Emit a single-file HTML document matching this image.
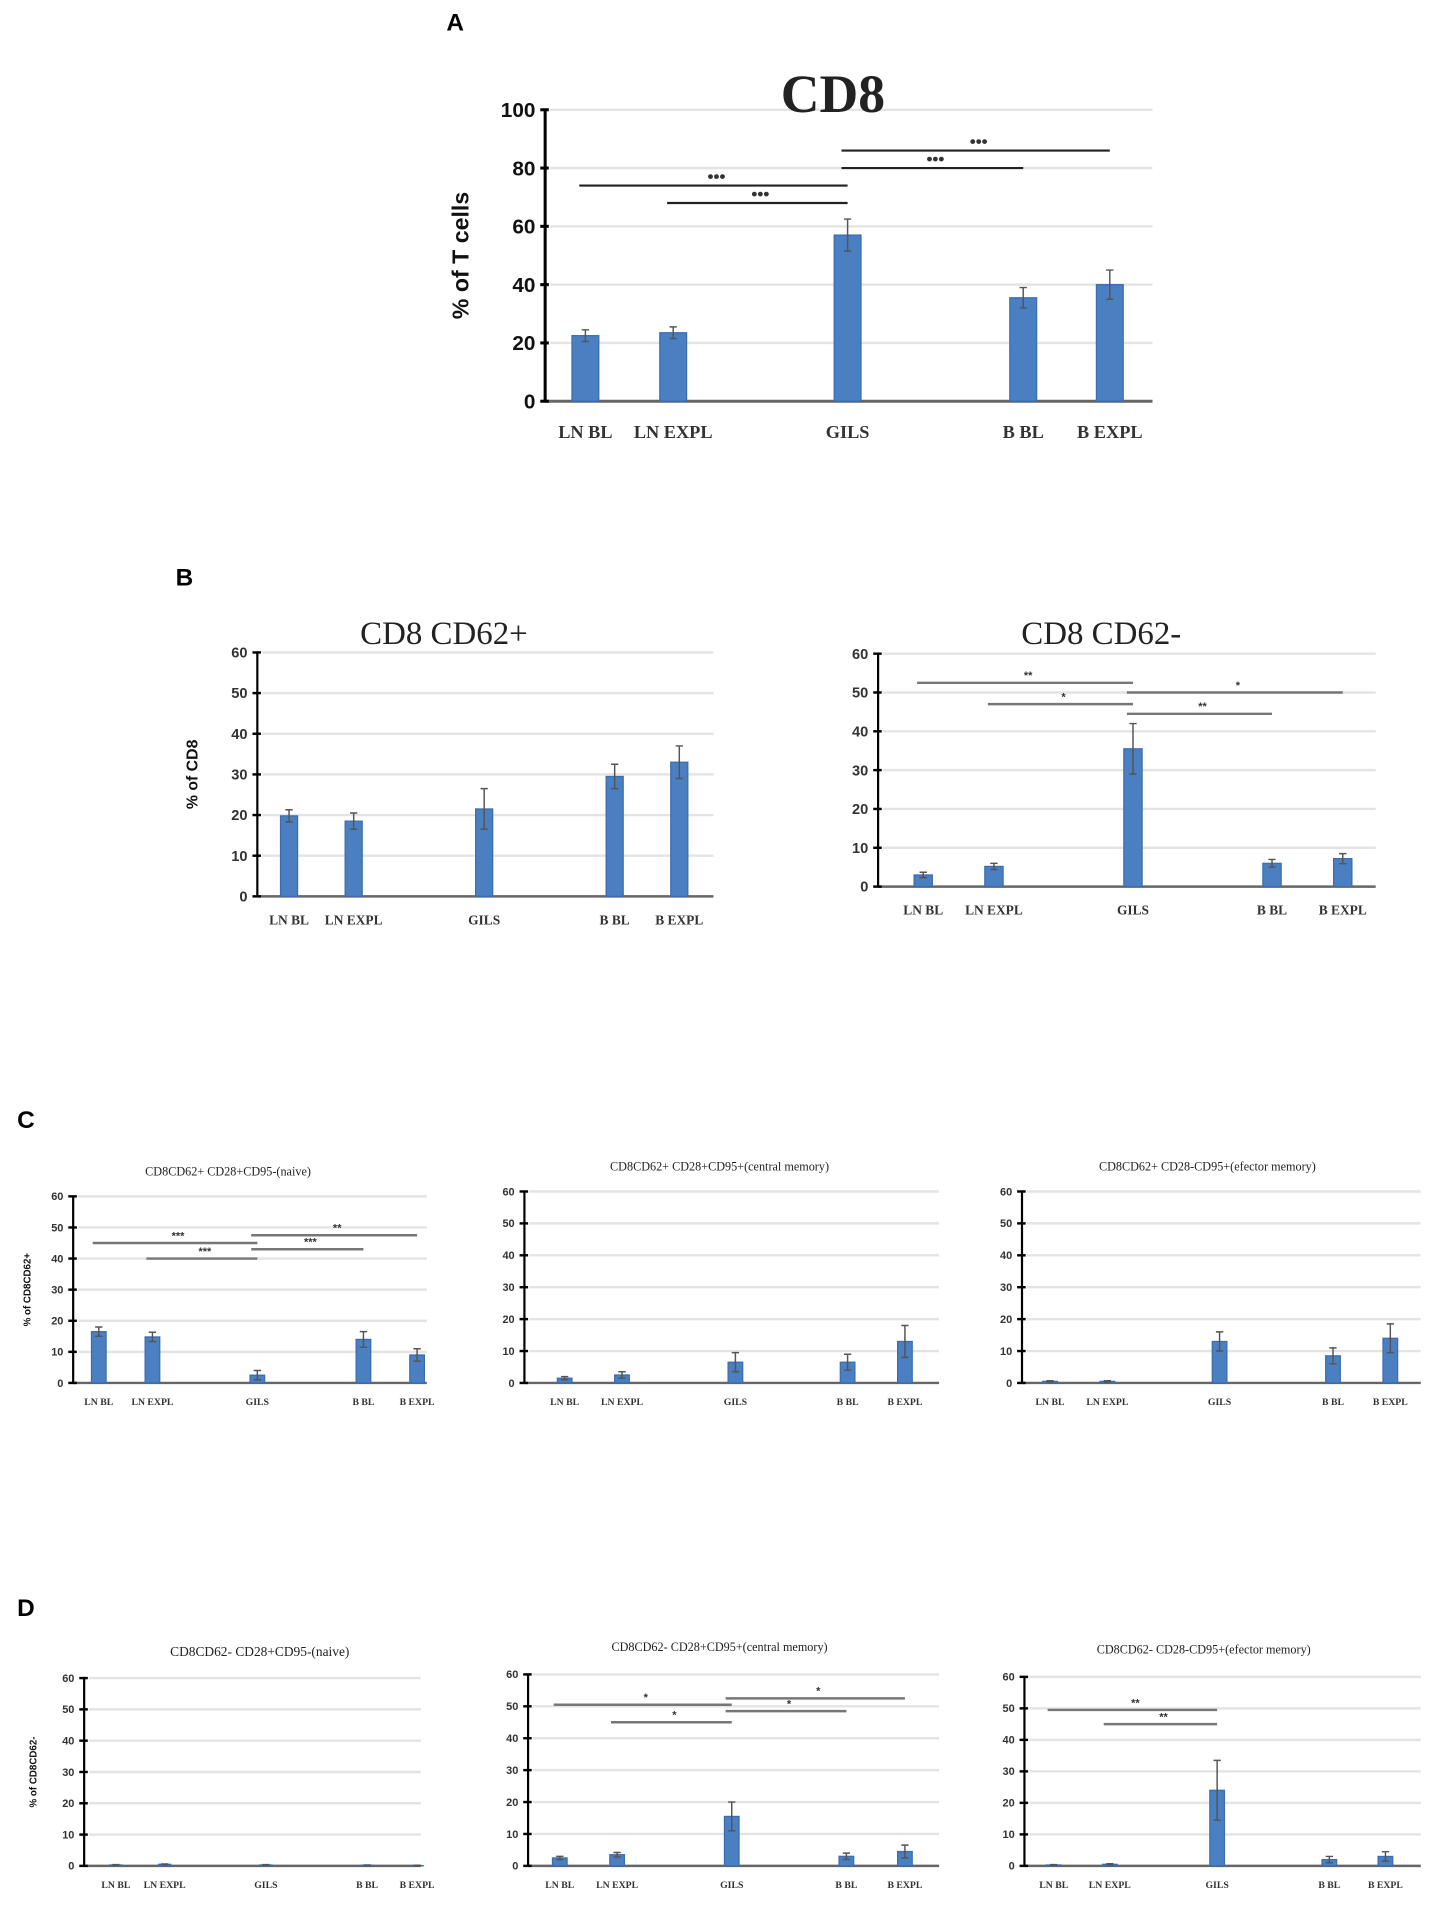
<!DOCTYPE html>
<html><head><meta charset="utf-8"><style>
html,body{margin:0;padding:0;background:#fff;}
svg{display:block;}
</style></head><body>
<svg id="fig" width="1433" height="1911" viewBox="0 0 1175 1567" preserveAspectRatio="none" xmlns="http://www.w3.org/2000/svg">
<text x="366" y="25" font-family="Liberation Sans, sans-serif" font-weight="bold" font-size="20">A</text>
<text x="144" y="480" font-family="Liberation Sans, sans-serif" font-weight="bold" font-size="20">B</text>
<text x="14" y="925" font-family="Liberation Sans, sans-serif" font-weight="bold" font-size="20">C</text>
<text x="14" y="1325" font-family="Liberation Sans, sans-serif" font-weight="bold" font-size="20">D</text>
</svg>
<script>
// ---- data ----
const categories = ["LN BL","LN EXPL","GILS","B BL","B EXPL"];
const aValues = [22.5, 23.5, 57, 35.5, 40];
const aErrors = [2, 2, 5.5, 3.5, 5];
const aTicks = [0,20,40,60,80,100];
const aSig = [[0,2,74,"***"],[1,2,68,"***"],[2,3,80,"***"],[2,4,86,"***"]];
const bTicks = [0,10,20,30,40,50,60];
const b1Values = [19.8, 18.5, 21.5, 29.5, 33];
const b1Errors = [1.5, 2, 5, 3, 4];
const b2Values = [3, 5.2, 35.5, 6, 7.2];
const b2Errors = [0.7, 0.8, 6.5, 1, 1.3];
const b2Sig = [[0,2,52.5,"**"],[1,2,47,"*"],[2,4,50,"*"],[2,3,44.5,"**"]];
const c1Values = [16.5, 14.8, 2.5, 14, 9];
const c1Errors = [1.5, 1.5, 1.5, 2.5, 2];
const c1Sig = [[0,2,45,"***"],[1,2,40,"***"],[2,4,47.5,"**"],[2,3,43,"***"]];
const c2Values = [1.5, 2.5, 6.5, 6.5, 13];
const c2Errors = [0.5, 1, 3, 2.5, 5];
const c3Values = [0.5, 0.5, 13, 8.5, 14];
const c3Errors = [0.2, 0.2, 3, 2.5, 4.5];
const d1Values = [0.3, 0.5, 0.3, 0.2, 0.1];
const d1Errors = [0.1, 0.1, 0.1, 0.1, 0.1];
const d2Values = [2.5, 3.5, 15.5, 3, 4.5];
const d2Errors = [0.5, 0.7, 4.5, 1, 2];
const d2Sig = [[0,2,50.5,"*"],[1,2,45,"*"],[2,4,52.5,"*"],[2,3,48.5,"*"]];
const d3Values = [0.3, 0.5, 24, 2, 3];
const d3Errors = [0.1, 0.2, 9.5, 1, 1.5];
const d3Sig = [[0,2,49.5,"**"],[1,2,45,"**"]];

const NS = "http://www.w3.org/2000/svg";
const svg = document.getElementById('fig');
function mk(tag, attrs, parent){
  const e = document.createElementNS(NS, tag);
  for (const k in attrs) e.setAttribute(k, attrs[k]);
  (parent||svg).appendChild(e);
  return e;
}

function chart(cfg){
  const g = mk('g', {});
  
  
  const max = cfg.ticks[cfg.ticks.length-1];
  const y = v => cfg.y0 - (v/max)*(cfg.y0-cfg.yTop);
  // gridlines
  cfg.ticks.forEach((t,i)=>{
    if (t===0) return;
    const l = mk('line', {x1:cfg.ax+4, x2:cfg.right, y1:y(t), y2:y(t), stroke:'#e4e4e4', 'stroke-width':2}, g);
    
    
  });
  // baseline
  const bl = mk('line', {x1:cfg.ax, x2:cfg.right, y1:cfg.y0, y2:cfg.y0, stroke:'#666', 'stroke-width':cfg.big?2.5:2}, g);
  
  
  // y axis
  const ya = mk('line', {x1:cfg.ax, x2:cfg.ax, y1:cfg.yTop, y2:cfg.y0, stroke:'#000', 'stroke-width':cfg.big?2.5:1.8}, g);
  
  
  cfg.ticks.forEach(t=>{
    const tk = mk('line', {x1:cfg.ax-4, x2:cfg.ax+3, y1:y(t), y2:y(t), stroke:'#000', 'stroke-width':cfg.big?2.5:2}, g);
    
    
    const tl = mk('text', {x:cfg.ax-8, y:y(t)+cfg.tickFs*0.35, 'text-anchor':'end', 'font-family':cfg.big?'Liberation Sans, sans-serif':'Liberation Sans Narrow, Liberation Sans, sans-serif', 'font-weight':'bold', 'font-size':cfg.tickFs, fill:cfg.big?'#111':'#333'}, g);
    tl.textContent = t;
    
    
  });
  // bars
  cfg.values.forEach((v,i)=>{
    const cx = cfg.xs[i];
    const r = mk('rect', {x:cx-cfg.bw/2, y:y(v), width:cfg.bw, height:cfg.y0-y(v), fill:'#4a7fc1', stroke:'#3a6cae', 'stroke-width':1}, g);
    
    
    const e = cfg.errors[i];
    const eb = mk('path', {d:`M${cx} ${y(v+e)}V${y(Math.max(0,v-e))}M${cx-3} ${y(v+e)}H${cx+3}M${cx-3} ${y(Math.max(0,v-e))}H${cx+3}`, stroke:'#555', 'stroke-width':1.2, fill:'none'}, g);
    
    
    const xl = mk('text', {x:cx, y:cfg.labY, 'text-anchor':'middle', 'font-family':'Liberation Serif, serif', 'font-weight':'bold', 'font-size':cfg.labFs, fill:'#333'}, g);
    xl.textContent = categories[i];
    
    
  });
  // significance
  (cfg.sig||[]).forEach(s=>{
    const x1 = cfg.xs[s[0]], x2 = cfg.xs[s[1]];
    const l = mk('line', {x1:x1-5, x2:x2, y1:y(s[2]), y2:y(s[2]), stroke:cfg.big?'#222':'#777', 'stroke-width':cfg.big?1.8:2}, g);
    
    
    const st = mk('text', {x:(x1+x2)/2, y:y(s[2])-3, 'text-anchor':'middle', 'font-family':'Liberation Sans, sans-serif', 'font-weight':'bold', 'font-size':cfg.big?14:9, fill:'#333'}, g);
    st.textContent = s[3].replace(/\*/g, cfg.big?'•':'*');
    
    
  });
  // title
  const tt = mk('text', {x:cfg.titleX, y:cfg.titleY, 'text-anchor':'middle', 'font-family':'Liberation Serif, serif', 'font-size':cfg.titleFs, 'font-weight':cfg.big?'bold':'normal', fill:'#222'}, g);
  tt.textContent = cfg.title;
  
  
  if (cfg.yTitle){
    const yt = mk('text', {x:0, y:0, transform:`translate(${cfg.yTitleX},${(cfg.y0+cfg.yTop)/2}) rotate(-90)`, 'text-anchor':'middle', 'font-family':'Liberation Sans, sans-serif', 'font-weight':'bold', 'font-size':cfg.yTitleFs, fill:'#111'}, g);
    yt.textContent = cfg.yTitle;
    
    
  }
}

chart({name:'chart-cd8', big:true, ax:447, y0:329, yTop:90, right:945, xs:[480,552,695,839,910], bw:22,
  values:aValues, errors:aErrors, ticks:aTicks, sig:aSig, tickFs:17, labY:359, labFs:15,
  title:'CD8', titleX:683, titleY:92, titleFs:44, yTitle:'% of T cells', yTitleX:384, yTitleFs:19});
chart({name:'chart-cd8-cd62-pos', ax:211, y0:735, yTop:535, right:585, xs:[237,290,397,504,557], bw:14,
  values:b1Values, errors:b1Errors, ticks:bTicks, tickFs:12, labY:758, labFs:11,
  title:'CD8 CD62+', titleX:364, titleY:528, titleFs:27, yTitle:'% of CD8', yTitleX:162, yTitleFs:13});
chart({name:'chart-cd8-cd62-neg', ax:720, y0:727, yTop:536, right:1128, xs:[757,815,929,1043,1101], bw:15,
  values:b2Values, errors:b2Errors, ticks:bTicks, sig:b2Sig, tickFs:12, labY:750, labFs:11,
  title:'CD8 CD62-', titleX:903, titleY:528, titleFs:27});
chart({name:'chart-c-naive', ax:60, y0:1134, yTop:981, right:350, xs:[81,125,211,298,342], bw:12,
  values:c1Values, errors:c1Errors, ticks:bTicks, sig:c1Sig, tickFs:9, labY:1152, labFs:8,
  title:'CD8CD62+ CD28+CD95-(naive)', titleX:187, titleY:964, titleFs:10, yTitle:'% of CD8CD62+', yTitleX:25, yTitleFs:8});
chart({name:'chart-c-central-memory', ax:430, y0:1134, yTop:977, right:770, xs:[463,510,603,695,742], bw:12,
  values:c2Values, errors:c2Errors, ticks:bTicks, tickFs:9, labY:1152, labFs:8,
  title:'CD8CD62+ CD28+CD95+(central memory)', titleX:590, titleY:960, titleFs:10});
chart({name:'chart-c-effector-memory', ax:838, y0:1134, yTop:977, right:1165, xs:[861,908,1000,1093,1140], bw:12,
  values:c3Values, errors:c3Errors, ticks:bTicks, tickFs:9, labY:1152, labFs:8,
  title:'CD8CD62+ CD28-CD95+(efector memory)', titleX:990, titleY:960, titleFs:10});
chart({name:'chart-d-naive', ax:69, y0:1530, yTop:1376, right:345, xs:[95,135,218,301,342], bw:10,
  values:d1Values, errors:d1Errors, ticks:bTicks, tickFs:9, labY:1548, labFs:8,
  title:'CD8CD62- CD28+CD95-(naive)', titleX:213, titleY:1358, titleFs:11, yTitle:'% of CD8CD62-', yTitleX:30, yTitleFs:8});
chart({name:'chart-d-central-memory', ax:433, y0:1530, yTop:1373, right:770, xs:[459,506,600,694,742], bw:12,
  values:d2Values, errors:d2Errors, ticks:bTicks, sig:d2Sig, tickFs:9, labY:1548, labFs:8,
  title:'CD8CD62- CD28+CD95+(central memory)', titleX:590, titleY:1354, titleFs:10});
chart({name:'chart-d-effector-memory', ax:840, y0:1530, yTop:1375, right:1165, xs:[864,910,998,1090,1136], bw:12,
  values:d3Values, errors:d3Errors, ticks:bTicks, sig:d3Sig, tickFs:9, labY:1548, labFs:8,
  title:'CD8CD62- CD28-CD95+(efector memory)', titleX:987, titleY:1356, titleFs:10});
</script>
</body></html>
